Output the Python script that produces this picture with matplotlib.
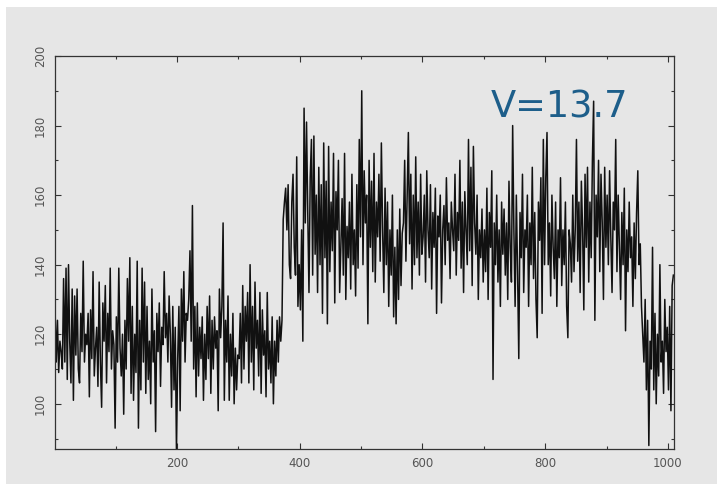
import numpy as np
import matplotlib.pyplot as plt
from matplotlib.patches import Rectangle
from matplotlib.ticker import MultipleLocator

# counts, one value every 2 channels
counts_0 = [128, 112, 124, 109, 118, 115, 110, 136, 112, 139,
            107, 140, 118, 106, 133, 101, 131, 114, 133, 110,
            106, 126, 115, 141, 112, 120, 117, 126, 102, 127,
            113, 138, 108, 116, 122, 105, 135, 112, 99, 129,
            118, 134, 106, 126, 115, 139, 110, 121, 117, 93]
counts_1 = [125, 112, 139, 116, 108, 120, 97, 124, 110, 136,
            118, 142, 103, 128, 101, 120, 109, 141, 93, 124,
            104, 139, 112, 135, 103, 128, 107, 118, 100, 133,
            112, 121, 92, 126, 115, 129, 105, 122, 117, 138,
            119, 126, 112, 131, 120, 99, 128, 104, 122, 86]
counts_2 = [113, 128, 98, 133, 118, 138, 112, 126, 124, 130,
            144, 118, 157, 110, 128, 102, 129, 108, 122, 113,
            125, 101, 120, 107, 128, 113, 131, 103, 124, 110,
            125, 116, 121, 98, 133, 119, 128, 152, 101, 124,
            112, 131, 101, 120, 108, 126, 100, 116, 104, 114]
counts_3 = [113, 126, 106, 134, 110, 128, 118, 132, 106, 140,
            112, 128, 104, 135, 116, 124, 108, 132, 103, 127,
            114, 121, 102, 132, 110, 118, 106, 125, 100, 118,
            108, 124, 112, 125, 118, 124, 153, 158, 162, 150,
            163, 140, 136, 158, 166, 145, 137, 171, 128, 140]
counts_4 = [127, 150, 118, 185, 152, 181, 155, 132, 165, 176,
            137, 177, 143, 160, 132, 168, 140, 163, 126, 175,
            142, 164, 123, 174, 138, 158, 144, 172, 129, 161,
            150, 170, 132, 145, 159, 137, 172, 130, 151, 142,
            158, 133, 166, 140, 150, 131, 163, 139, 176, 148]
counts_5 = [190, 140, 167, 152, 160, 123, 170, 145, 164, 138,
            172, 135, 158, 148, 166, 141, 175, 150, 132, 162,
            140, 158, 128, 150, 137, 160, 125, 145, 123, 150,
            130, 156, 134, 149, 152, 170, 141, 160, 178, 146,
            166, 133, 160, 140, 171, 142, 158, 137, 166, 143]
counts_6 = [148, 160, 135, 167, 150, 142, 163, 133, 155, 145,
            162, 126, 154, 148, 160, 129, 150, 157, 140, 165,
            147, 152, 136, 158, 150, 144, 166, 137, 155, 147,
            170, 139, 158, 132, 161, 150, 140, 176, 144, 168,
            134, 174, 152, 143, 160, 130, 150, 142, 156, 135]
counts_7 = [150, 138, 162, 130, 155, 145, 167, 107, 152, 140,
            160, 135, 150, 128, 158, 143, 156, 137, 152, 130,
            164, 145, 135, 180, 150, 128, 160, 138, 113, 155,
            142, 166, 132, 150, 145, 160, 128, 152, 140, 168,
            136, 155, 130, 119, 158, 147, 165, 126, 176, 140]
counts_8 = [165, 178, 140, 152, 131, 160, 145, 136, 158, 128,
            150, 142, 165, 134, 150, 140, 158, 128, 119, 150,
            146, 135, 160, 138, 150, 176, 141, 158, 132, 164,
            150, 127, 166, 145, 168, 135, 158, 142, 170, 187,
            124, 160, 148, 170, 138, 166, 152, 130, 168, 145]
counts_9 = [160, 140, 167, 148, 132, 158, 150, 176, 138, 160,
            145, 130, 155, 140, 162, 121, 150, 138, 158, 142,
            148, 128, 152, 136, 155, 167, 140, 146, 128, 120,
            112, 130, 104, 124, 88, 118, 110, 145, 104, 126,
            100, 120, 108, 140, 112, 118, 103, 130, 115, 122]
counts_10 = [104, 128, 98, 134, 137]

label_text = "V=13.7"

counts = (counts_0 + counts_1 + counts_2 + counts_3 + counts_4 + counts_5
          + counts_6 + counts_7 + counts_8 + counts_9 + counts_10)
channel = 1 + 2 * np.arange(len(counts))

fig = plt.figure(figsize=(7.17, 4.84), dpi=100, facecolor="white")
# grey panel behind everything
fig.patches.append(Rectangle((6 / 717, 0), 1, 477 / 484, transform=fig.transFigure,
                             facecolor="#e6e6e6", edgecolor="none", zorder=-5))

ax = fig.add_axes([55 / 717, 35 / 484, 619 / 717, 393 / 484])
ax.set_zorder(1)
ax.set_facecolor("#e6e6e6")
ax.plot(channel, counts, color="#111111", lw=1.1)

ax.set_xlim(1, 1010)
ax.set_ylim(87, 200)
ax.xaxis.set_major_locator(MultipleLocator(200))
ax.xaxis.set_minor_locator(MultipleLocator(100))
ax.yaxis.set_major_locator(MultipleLocator(20))
ax.yaxis.set_minor_locator(MultipleLocator(10))
ax.tick_params(which="both", direction="in", top=True, right=True,
               colors="#333333", labelcolor="#555555", labelsize=8.5, width=0.8)
ax.tick_params(which="major", length=4, pad=6)
ax.tick_params(which="minor", length=2.5)
for lab in ax.get_yticklabels():
    lab.set_rotation(90)
    lab.set_va("center")
for s in ax.spines.values():
    s.set_color("#333333")
    s.set_linewidth(0.9)

ax.text(711, 182.2, label_text, color="#1d5e8a", fontsize=26.5,
        ha="left", va="baseline")

fig.savefig("out.png", dpi=100, facecolor=fig.get_facecolor())
